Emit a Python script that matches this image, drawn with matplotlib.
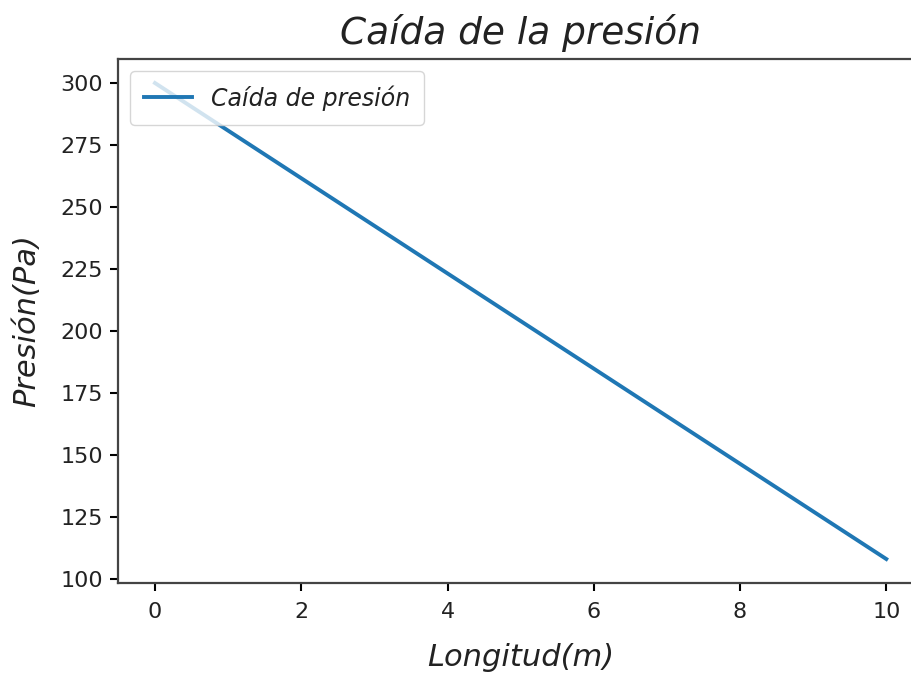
import numpy as np
import matplotlib.pyplot as plt

# Datos
longitud = [0, 2, 4, 6, 8, 10]
presion = [300, 261.6, 223.2, 184.8, 146.4, 108]

fig = plt.figure(figsize=(9.11, 6.73), dpi=100)
# el eje derecho queda fuera de la imagen, como en la original
ax = fig.add_axes([0.130, 0.134, 0.883, 0.778])

ax.plot(longitud, presion, color='#1f77b4', linewidth=2.8, label='Caída de presión')

ax.set_title('Caída de la presión', fontsize=27, style='italic', pad=11, color='#222222')
ax.set_xlabel('Longitud(m)', fontsize=22, style='italic', color='#222222', labelpad=15)
ax.set_ylabel('Presión(Pa)', fontsize=22, style='italic', color='#222222', labelpad=14)
ax.tick_params(labelsize=16, length=6, width=1.5, labelcolor='#222222')
ax.tick_params(axis='x', pad=8)
ax.tick_params(axis='y', pad=5)
ax.set_yticks([100, 125, 150, 175, 200, 225, 250, 275, 300])
for s in ax.spines.values():
    s.set_linewidth(1.6)
    s.set_color('#444444')
leg = ax.legend(loc='upper left', prop={'style': 'italic', 'size': 17}, borderpad=0.6)
for t in leg.get_texts():
    t.set_color('#222222')

fig.savefig('out.png', dpi=100)
